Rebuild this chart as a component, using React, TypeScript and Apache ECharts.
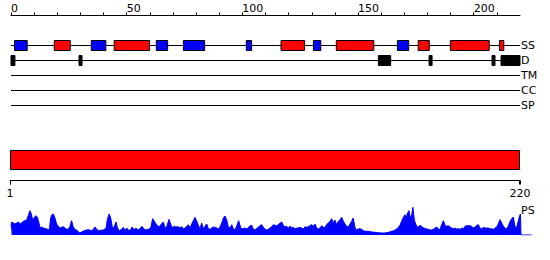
import React, { useEffect, useRef } from "react";
import * as echarts from "echarts";

const trackNames = ["SS", "D", "TM", "CC", "SP"];
const sequenceLength = 220;
const topTicks = [0, 10, 20, 30, 40, 50, 60, 70, 80, 90, 100, 110, 120, 130, 140, 150, 160, 170, 180, 190, 200, 210];
const topLabels = [0, 50, 100, 150, 200];
const domainTicks = [1, 220];

// secondary structure: strands (blue) and helices (red), residue start/end
const strands: [number, number][] = [
  [1.5, 7], [34.7, 41], [62.8, 67.7], [74.5, 83.7], [101.7, 104], [130.7, 133.9], [167, 171.9],
];
const helices: [number, number][] = [
  [18.7, 25.6], [44.6, 59.9], [116.7, 126.9], [140.6, 156.8], [176, 180.8], [189.9, 206.7], [211.1, 213],
];
// disordered regions
const disordered: [number, number][] = [
  [0, 1.7], [29.4, 30.7], [158.8, 164.1], [180.7, 182], [207.9, 209.2], [211.8, 220],
];
// whole-chain domain
const domains: [number, number][] = [[1, 220]];

// PS profile: [residue, score]
const psProfile: [number, number][] = [
  [0, 26], [0.3, 39], [1.7, 33], [2.4, 36], [3.2, 39], [3.9, 33], [4.6, 36], [5.3, 41], [6.1, 43], [6.8, 46],
  [7.5, 59], [8.2, 73], [8.9, 61], [9.4, 41], [9.9, 51], [10.7, 58], [11.4, 53], [12.1, 36], [12.5, 21], [13.3, 24],
  [14.0, 21], [15.4, 18], [16.6, 16], [17.1, 51], [17.7, 61], [18.3, 63], [19.0, 51], [19.7, 33], [20.5, 26], [21.2, 21],
  [21.9, 23], [22.6, 25], [23.3, 21], [24.1, 17], [24.8, 18], [25.5, 26], [26.2, 43], [26.9, 24], [27.7, 16], [28.4, 15],
  [29.1, 9], [29.8, 6], [30.5, 9], [32.0, 14], [33.4, 16], [34.9, 13], [35.6, 17], [36.3, 24], [37.0, 18], [37.7, 13],
  [38.5, 14], [39.9, 15], [41.1, 21], [41.6, 46], [42.4, 63], [43.1, 51], [43.9, 19], [44.7, 26], [45.4, 39], [46.0, 21],
  [46.8, 13], [47.8, 17], [48.6, 23], [49.3, 13], [50.0, 21], [50.7, 15], [51.4, 13], [52.4, 24], [53.2, 16], [54.0, 21],
  [54.7, 15], [55.8, 19], [56.5, 26], [57.2, 21], [57.9, 15], [59.4, 17], [60.4, 21], [61.2, 49], [62.0, 41], [63.0, 29],
  [64.1, 25], [65.1, 34], [65.8, 39], [66.6, 21], [67.3, 25], [68.3, 47], [69.0, 33], [69.7, 21], [70.5, 26], [71.3, 24],
  [72.3, 25], [73.0, 21], [73.8, 25], [74.5, 18], [75.6, 23], [76.6, 31], [77.4, 21], [78.1, 33], [78.8, 43], [79.5, 53],
  [80.2, 43], [81.0, 29], [81.7, 19], [82.4, 36], [83.1, 19], [83.8, 26], [84.6, 33], [85.3, 19], [86.0, 17], [86.7, 21],
  [87.7, 24], [88.9, 21], [89.9, 18], [91.1, 36], [91.8, 51], [92.5, 57], [93.2, 46], [93.9, 25], [94.7, 21], [95.4, 31],
  [96.1, 18], [96.8, 16], [97.5, 26], [98.4, 43], [99.3, 21], [100.1, 19], [101.1, 21], [101.9, 18], [102.6, 23], [103.3, 28],
  [104.0, 29], [104.7, 18], [105.5, 16], [106.5, 21], [107.3, 26], [108.3, 31], [109.1, 23], [109.8, 18], [110.5, 15], [111.2, 17],
  [111.9, 21], [112.7, 25], [113.4, 31], [114.1, 29], [114.8, 28], [115.5, 31], [116.3, 36], [117.0, 39], [117.7, 29], [118.4, 24],
  [119.1, 26], [119.9, 21], [120.6, 27], [121.3, 21], [122.0, 23], [122.7, 19], [123.5, 21], [124.2, 21], [124.9, 23], [125.6, 21],
  [126.4, 18], [127.1, 25], [127.8, 23], [128.5, 25], [129.9, 31], [130.7, 26], [131.4, 33], [132.1, 21], [132.8, 18], [133.5, 21],
  [134.3, 28], [135.0, 23], [135.7, 23], [136.4, 31], [137.1, 36], [137.9, 41], [138.6, 49], [139.3, 36], [140.0, 45], [140.7, 31],
  [141.5, 41], [142.2, 46], [142.9, 53], [143.6, 43], [144.3, 33], [145.1, 26], [145.8, 24], [146.5, 33], [147.2, 41], [147.9, 51],
  [148.7, 21], [149.4, 16], [150.1, 18], [150.8, 19], [151.5, 17], [152.3, 13], [153.0, 11], [154.4, 11], [155.9, 9], [157.3, 8],
  [158.8, 7], [160.2, 6], [161.6, 6], [163.1, 8], [164.5, 11], [165.3, 13], [166.0, 15], [166.7, 18], [167.4, 23], [168.1, 29],
  [168.8, 41], [169.6, 53], [170.3, 61], [170.7, 49], [171.4, 66], [172.0, 73], [172.6, 51], [173.2, 61], [173.7, 83], [174.3, 46],
  [174.9, 33], [175.6, 23], [176.3, 26], [177.1, 29], [177.8, 23], [178.5, 21], [179.2, 19], [179.9, 18], [180.7, 16], [181.8, 15],
  [182.5, 17], [183.3, 21], [184.0, 24], [184.7, 18], [185.4, 16], [186.1, 31], [186.9, 43], [187.6, 29], [188.3, 26], [189.0, 28],
  [189.7, 24], [190.5, 21], [191.2, 19], [191.9, 21], [192.6, 18], [193.3, 19], [194.1, 17], [194.8, 21], [195.5, 18], [196.2, 26],
  [196.9, 28], [197.7, 28], [198.4, 28], [199.1, 26], [199.8, 21], [200.5, 23], [201.3, 29], [202.0, 31], [202.7, 21], [203.4, 18],
  [204.1, 23], [204.9, 21], [205.6, 21], [206.3, 21], [207.0, 18], [207.7, 19], [208.5, 17], [209.2, 21], [209.9, 24], [210.6, 33],
  [211.3, 46], [212.1, 36], [212.8, 26], [213.5, 21], [214.2, 18], [214.9, 26], [215.7, 41], [216.4, 49], [217.1, 54], [217.8, 26],
  [218.5, 21], [219.2, 41], [219.9, 59], [220.2, 63], [220.4, 0], [225, 0],
];

const FONT = "DejaVu Sans";

export default function App() {
  const ref = useRef<HTMLDivElement>(null);

  useEffect(() => {
    if (!ref.current) return;
    const chart = echarts.init(ref.current, null, { renderer: "svg" });

    const trackData: number[][] = [
      ...trackNames.map((_, i) => [0, sequenceLength, i, 0]),
      ...strands.map(([s, e]) => [s, e, 0, 1]),
      ...helices.map(([s, e]) => [s, e, 0, 2]),
      ...disordered.map(([s, e]) => [s, e, 1, 3]),
    ];

    const textStyle = { color: "#000", fontSize: 11, fontFamily: FONT };
    const BAR_HEIGHT = 20;
    // ruler layout (pixels): grid 1 spans x 10..520, bar 150..170, ruler 10.5px below
    const RULER = { left: 10, right: 520, y: 180.5, tick: 4 };

    chart.setOption({
      animation: false,
      backgroundColor: "#fff",
      textStyle: { fontFamily: FONT },
      grid: [
        { left: 11, width: 509, top: 38, height: 75 },
        { left: RULER.left, width: RULER.right - RULER.left, top: 150, height: BAR_HEIGHT },
        { left: 11, width: 520.6, top: 205, height: 30 },
      ],
      xAxis: [
        {
          gridIndex: 0,
          type: "value",
          min: 0,
          max: sequenceLength,
          position: "top",
          offset: 22.5,
          axisLine: { show: true, onZero: false, lineStyle: { color: "#000", width: 1 } },
          axisTick: { show: true, customValues: topTicks, length: 3, lineStyle: { color: "#000" } },
          axisLabel: { ...textStyle, customValues: topLabels, align: "left", margin: 2 },
          splitLine: { show: false },
        },
        {
          gridIndex: 1,
          type: "value",
          min: 1,
          max: sequenceLength,
          position: "bottom",
          offset: 10.5,
          axisLine: { show: true, onZero: false, lineStyle: { color: "#000", width: 1 } },
          axisTick: { show: true, customValues: domainTicks, length: RULER.tick, lineStyle: { color: "#000" } },
          axisLabel: { ...textStyle, customValues: domainTicks, margin: 7 },
          splitLine: { show: false },
        },
        { gridIndex: 2, type: "value", min: 0, max: 225, show: false },
      ],
      yAxis: [
        {
          gridIndex: 0,
          type: "category",
          data: trackNames,
          inverse: true,
          position: "right",
          axisLine: { show: false },
          axisTick: { show: false },
          axisLabel: { ...textStyle, margin: 1, align: "left" },
          splitLine: { show: false },
        },
        {
          gridIndex: 1,
          type: "value",
          min: 0,
          max: 1,
          axisLine: { show: false },
          axisTick: { show: false },
          axisLabel: { show: false },
          splitLine: { show: false },
        },
        { gridIndex: 2, type: "value", min: 0, max: 90, show: false },
      ],
      series: [
        {
          type: "custom",
          xAxisIndex: 0,
          yAxisIndex: 0,
          encode: { x: [0, 1], y: 2 },
          data: trackData,
          renderItem: (_p: any, api: any) => {
            const s = api.value(0);
            const e = api.value(1);
            const t = api.value(2);
            const k = api.value(3);
            const p1 = api.coord([s, t]);
            const p2 = api.coord([e, t]);
            const y = p1[1];
            if (k === 0) {
              return {
                type: "line",
                shape: { x1: p1[0], y1: y, x2: p2[0], y2: y },
                style: { stroke: "#000", lineWidth: 1 },
              };
            }
            const fill = k === 1 ? "#0000ff" : k === 2 ? "#ff0000" : "#000000";
            return {
              type: "rect",
              shape: { x: p1[0], y: y - 5, width: p2[0] - p1[0], height: 10 },
              style: { fill, stroke: "#000", lineWidth: 1 },
            };
          },
        },
        {
          type: "custom",
          xAxisIndex: 1,
          yAxisIndex: 1,
          encode: { x: [0, 1] },
          data: domains,
          renderItem: (_p: any, api: any) => {
            const a = api.coord([api.value(0), 1]);
            const b = api.coord([api.value(1), 1]);
            return {
              type: "rect",
              shape: { x: a[0] + 0.5, y: a[1] + 0.5, width: b[0] - a[0] - 1, height: BAR_HEIGHT - 1 },
              style: { fill: "#ff0000", stroke: "#000", lineWidth: 1 },
            };
          },
        },
        {
          type: "line",
          xAxisIndex: 2,
          yAxisIndex: 2,
          data: psProfile,
          symbol: "none",
          lineStyle: { color: "#0000ff", width: 1 },
          itemStyle: { color: "#0000ff" },
          areaStyle: { color: "#0000ff", opacity: 1 },
        },
      ],
      graphic: [
        {
          type: "group",
          z: 200,
          children: [
            {
              type: "line",
              shape: { x1: RULER.left, y1: RULER.y, x2: RULER.right, y2: RULER.y },
              style: { stroke: "#000", lineWidth: 1 },
            },
            {
              type: "line",
              shape: { x1: RULER.left + 0.5, y1: RULER.y, x2: RULER.left + 0.5, y2: RULER.y + RULER.tick },
              style: { stroke: "#000", lineWidth: 1 },
            },
            {
              type: "line",
              shape: { x1: RULER.right - 0.5, y1: RULER.y, x2: RULER.right - 0.5, y2: RULER.y + RULER.tick },
              style: { stroke: "#000", lineWidth: 1 },
            },
          ],
        },
        {
          type: "text",
          x: 521,
          y: 210.5,
          style: { text: "PS", fill: "#000", fontSize: 11, fontFamily: FONT, verticalAlign: "middle" },
        },
      ],
    });

    return () => chart.dispose();
  }, []);

  return (
    <div
      ref={ref}
      style={{ position: "fixed", left: 0, top: 0, width: 550, height: 260 }}
    />
  );
}
